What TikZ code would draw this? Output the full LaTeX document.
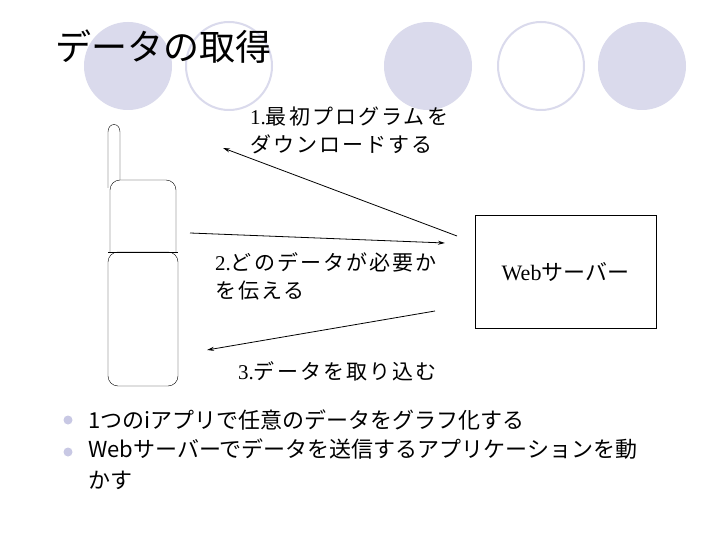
\documentclass[tikz,border=0pt]{standalone}
\usepackage{fontspec}
\usetikzlibrary{arrows.meta}
\setmainfont{Liberation Serif}
\newfontfamily\cjk{Noto Sans CJK JP}
\newfontfamily\cjkw[LetterSpace=10]{Noto Sans CJK JP}
\begin{document}
\begin{tikzpicture}[x=1pt,y=-1pt,
  filledc/.style={fill={rgb,255:red,218;green,218;blue,236}, draw=none},
  openc/.style={draw={rgb,255:red,218;green,218;blue,236}, line width=2pt, fill=white},
  lbl/.style={anchor=north west, inner sep=0, align=left, font=\fontsize{21}{28}\selectfont},
  arr/.style={-{Stealth[length=7pt,width=4pt]}, line width=0.8pt},
  bul/.style={circle, fill={rgb,255:red,200;green,200;blue,228}, inner sep=0, minimum size=9pt}]
\useasboundingbox (0,0) rectangle (720,540);
\fill[white] (0,0) rectangle (720,540);
\fill[filledc] (128,66) ellipse (44 and 44);
\draw[openc] (229,66) ellipse (43 and 44);
\fill[filledc] (428,66) ellipse (44 and 44);
\draw[openc] (541,66) ellipse (43 and 44);
\fill[filledc] (642,66) ellipse (44 and 44);
\node[anchor=west, inner sep=0, font=\cjk\fontsize{36}{40}\selectfont] (title) at (55,47) {データの取得};
% phone
\draw (108,188) -- (108,132) .. controls (108,122) and (120,122) .. (120,132) -- (120,188);
\draw[fill=white, rounded corners=10pt] (110,252) -- (110,180) -- (176,180) -- (176,252);
\draw[rounded corners=10pt] (108,252) -- (108,386) -- (178,386) -- (178,252) -- cycle;
\draw[fill=white] (108,252) -- (178,252);
\node[draw, minimum width=181pt, minimum height=113pt, inner sep=0] (srv) at (565.5,271.5) {\fontsize{22}{26}\selectfont Web{\cjk サーバー}};
\coordinate (a1s) at (457,236); \coordinate (a1e) at (223,148);
\coordinate (a2s) at (190,233); \coordinate (a2e) at (445,243);
\coordinate (a3s) at (435,311); \coordinate (a3e) at (207,350);
\draw[arr] (a1s) -- (a1e);
\draw[arr] (a2s) -- (a2e);
\draw[arr] (a3s) -- (a3e);
\node[lbl] (l1) at (250,107) {1.{\cjkw 最初プログラムを}\\{\cjkw ダウンロードする}};
\node[lbl] (l2) at (215,252) {2.{\cjkw どのデータが必要か}\\{\cjkw を伝える}};
\node[lbl] (l3) at (238,361) {3.{\cjkw データを取り込む}};
\node[bul] (b1) at (68,420) {};
\node[bul] (b2) at (68,452) {};
\node[anchor=west, inner sep=0, font=\cjk\fontsize{22}{31}\selectfont] (t1) at (88,420) {1つのiアプリで任意のデータをグラフ化する};
\node[anchor=north west, inner sep=0, align=left, font=\cjk\fontsize{22}{31}\selectfont] (t2) at (88,439) {Webサーバーでデータを送信するアプリケーションを動\\かす};
\end{tikzpicture}
\end{document}
